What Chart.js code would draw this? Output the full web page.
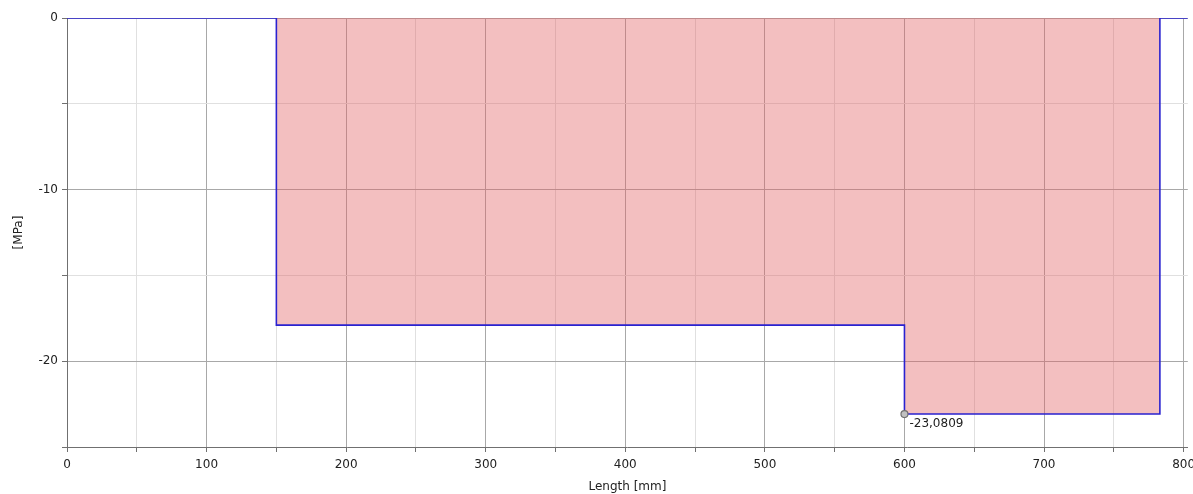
<!DOCTYPE html>
<html lang="en">
<head>
    <meta charset="UTF-8">
    <title>Stress along length</title>
    <style>
        body {
            margin: 0;
            padding: 0;
            background: #fff;
        }
        .chart-box {
            position: relative;
            width: 1193px;
            height: 494px;
        }
    </style>
</head>
<body>
    <div class="chart-box">
        <canvas id="stressChart"></canvas>
    </div>

    <script src="https://cdn.jsdelivr.net/npm/chart.js"></script>
    <script>
        // step profile
        const lengthMm = [0, 150, 150, 600, 600, 783, 783, 803];
        const stressMPa = [0, 0, -17.9, -17.9, -23.0809, -23.0809, 0, 0];

        // marked minimum
        const markerX = [600];
        const markerY = [-23.0809];
        const markerText = ['-23,0809'];

        const xMajor = 100, yMajor = 10;

        const gridColor = (major) => (ctx) =>
            (ctx.tick && ctx.tick.value % major === 0) ? '#a8a8a8' : '#e0e0e0';

        const labelFont = { family: 'DejaVu Sans', size: 12 };

        const markerLabel = {
            id: 'markerLabel',
            afterDatasetsDraw(chart) {
                const { ctx, scales } = chart;
                ctx.save();
                ctx.font = '12px "DejaVu Sans", sans-serif';
                ctx.fillStyle = '#222';
                ctx.textBaseline = 'top';
                markerX.forEach((x, i) => {
                    ctx.fillText(markerText[i],
                        scales.x.getPixelForValue(x) + 5,
                        scales.y.getPixelForValue(markerY[i]) + 4);
                });
                ctx.restore();
            }
        };

        const ctx = document.getElementById('stressChart').getContext('2d');
        new Chart(ctx, {
            type: 'scatter',
            data: {
                datasets: [{
                    data: lengthMm.map((x, i) => ({ x: x, y: stressMPa[i] })),
                    order: 1,
                    showLine: true,
                    borderColor: '#2a22d0',
                    borderWidth: 1.6,
                    backgroundColor: 'rgba(225, 95, 98, 0.4)',
                    fill: 'origin',
                    pointRadius: 0,
                    tension: 0
                }, {
                    data: markerX.map((x, i) => ({ x: x, y: markerY[i] })),
                    order: 0,
                    pointRadius: 3.5,
                    pointBackgroundColor: '#c0c0c0',
                    pointBorderColor: '#707070',
                    pointBorderWidth: 1.2
                }]
            },
            options: {
                responsive: true,
                maintainAspectRatio: false,
                animation: false,
                layout: {
                    padding: { top: 18, right: 5, left: 0, bottom: 0 }
                },
                plugins: {
                    legend: { display: false },
                    tooltip: { enabled: false }
                },
                scales: {
                    x: {
                        type: 'linear',
                        min: 0,
                        max: 803,
                        afterFit: (s) => { s.height = 47; s.paddingRight = 0; },
                        border: { color: '#707070' },
                        grid: {
                            color: gridColor(xMajor),
                            tickColor: '#707070',
                            tickLength: 5
                        },
                        ticks: {
                            stepSize: 50,
                            includeBounds: false,
                            maxRotation: 0,
                            autoSkip: false,
                            padding: 6,
                            color: '#222',
                            font: labelFont,
                            callback: (v) => v % xMajor === 0 ? v : ''
                        },
                        title: {
                            display: true,
                            text: 'Length [mm]',
                            color: '#222',
                            font: labelFont,
                            padding: { top: 0, bottom: 0 }
                        }
                    },
                    y: {
                        min: -25,
                        max: 0,
                        afterFit: (s) => { s.width = 67; },
                        border: { color: '#707070' },
                        grid: {
                            color: gridColor(yMajor),
                            tickColor: '#707070',
                            tickLength: 5
                        },
                        ticks: {
                            stepSize: 5,
                            autoSkip: false,
                            padding: 4,
                            color: '#222',
                            font: labelFont,
                            callback: (v) => (v % yMajor === 0 && v !== -25) ? v : ''
                        },
                        title: {
                            display: true,
                            text: '[MPa]',
                            color: '#222',
                            font: labelFont,
                            padding: { top: 12, bottom: 4 }
                        }
                    }
                }
            },
            plugins: [markerLabel]
        });
    </script>
</body>
</html>
